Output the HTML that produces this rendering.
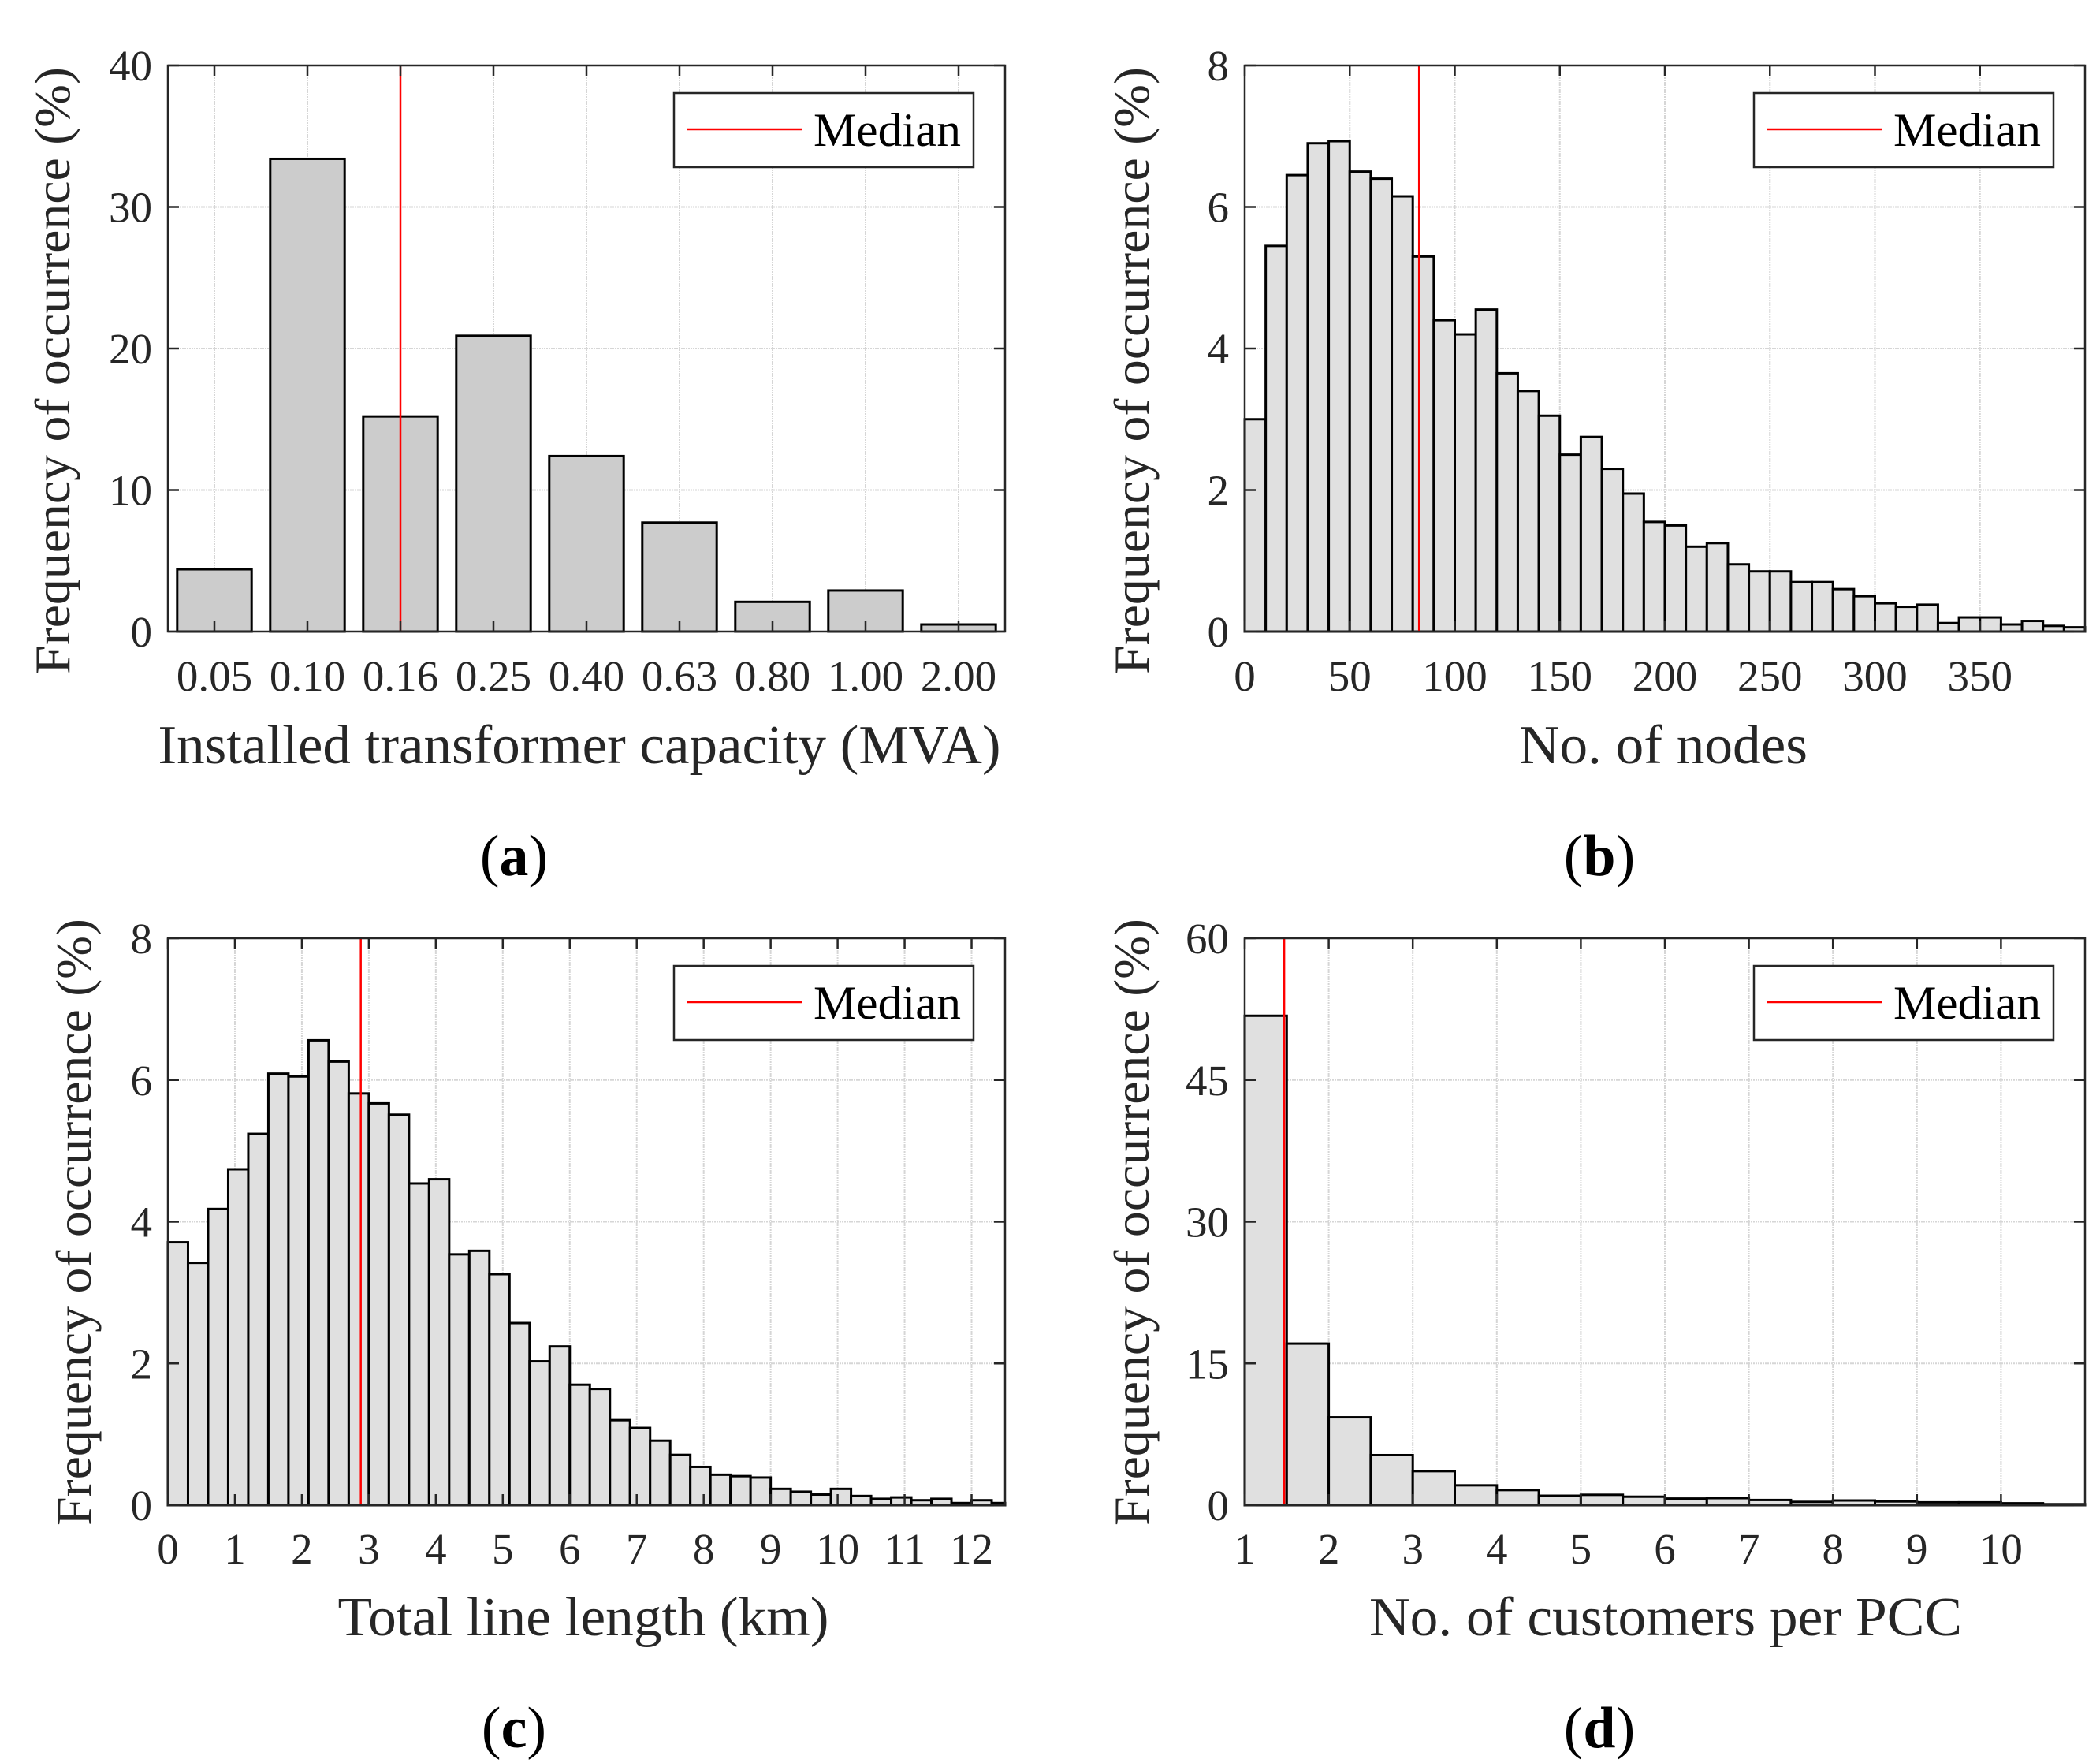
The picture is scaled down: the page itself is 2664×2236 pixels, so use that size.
<!DOCTYPE html>
<html><head><meta charset="utf-8"><style>
html,body{margin:0;padding:0;background:#fff;}
svg{display:block;font-family:"Liberation Serif",serif;}
</style></head>
<body>
<svg id="fig" width="2664" height="2236" viewBox="0 0 2664 2236" xmlns="http://www.w3.org/2000/svg"></svg>
<script>
// Panel (a) data
const aCategories = ["0.05","0.10","0.16","0.25","0.40","0.63","0.80","1.00","2.00"];
const aValues = [4.4,33.4,15.2,20.9,12.4,7.7,2.1,2.9,0.5];
const aMedianIndex = 3;
const aYTicks = [0,10,20,30,40];
// Panel (b) data
const bValues = [3.0,5.45,6.45,6.9,6.93,6.5,6.4,6.15,5.3,4.4,4.2,4.55,3.65,3.4,3.05,2.5,2.75,2.3,1.95,1.55,1.5,1.2,1.25,0.95,0.85,0.85,0.7,0.7,0.6,0.5,0.4,0.35,0.38,0.12,0.2,0.2,0.1,0.15,0.08,0.06];
const bBinStart = 0, bBinWidth = 10, bMedian = 83;
const bXTicks = [0,50,100,150,200,250,300,350];
const bYTicks = [0,2,4,6,8];
// Panel (c) data
const cValues = [3.71,3.42,4.18,4.74,5.24,6.09,6.05,6.56,6.26,5.81,5.67,5.51,4.54,4.6,3.54,3.59,3.26,2.57,2.03,2.24,1.70,1.64,1.20,1.09,0.91,0.71,0.54,0.43,0.41,0.39,0.23,0.19,0.15,0.23,0.13,0.09,0.11,0.07,0.09,0.03,0.07,0.03];
const cBinStart = 0, cBinWidth = 0.3, cMedian = 2.88;
const cXTicks = [0,1,2,3,4,5,6,7,8,9,10,11,12];
const cYTicks = [0,2,4,6,8];
// Panel (d) data
const dValues = [51.8,17.1,9.3,5.3,3.6,2.1,1.6,1.0,1.1,0.9,0.7,0.75,0.55,0.35,0.5,0.4,0.3,0.3,0.2,0.1];
const dBinStart = 1, dBinWidth = 0.5, dMedian = 1.47;
const dXTicks = [1,2,3,4,5,6,7,8,9,10];
const dYTicks = [0,15,30,45,60];

const NS = "http://www.w3.org/2000/svg";
const svg = document.getElementById('fig');
function mk(tag, attrs, parent, text){
  const e = document.createElementNS(NS, tag);
  for (const k in attrs) e.setAttribute(k, attrs[k]);
  if (text !== undefined) e.textContent = text;
  (parent||svg).appendChild(e);
  return e;
}

function panel(cfg){
  const g = mk('g', {});
  
  
  const L=cfg.x0, R=cfg.x1, T=cfg.y0, B=cfg.y1;
  const sx = v => L + (v - cfg.xmin) / (cfg.xmax - cfg.xmin) * (R - L);
  const sy = v => B - (v - cfg.ymin) / (cfg.ymax - cfg.ymin) * (B - T);
  const grid = mk('g', {}, g);
  
  
  cfg.xTicks.forEach(t => { const x=sx(t); if (x>L+1 && x<R-1) mk('line',{x1:x,x2:x,y1:T,y2:B,stroke:'#d6d6d6','stroke-width':2,'stroke-dasharray':'2,1'},grid); });
  cfg.yTicks.forEach(t => { const y=sy(t); if (y>T+1 && y<B-1) mk('line',{x1:L,x2:R,y1:y,y2:y,stroke:'#d6d6d6','stroke-width':2,'stroke-dasharray':'2,1'},grid); });
  const bars = mk('g', {}, g);
  
  
  cfg.bars.forEach((b, i) => {
    let x0 = sx(b.x0), x1 = Math.min(sx(b.x1), R);
    const r = mk('rect', {x:x0, y:sy(b.v), width:Math.max(0,x1-x0), height:sy(0)-sy(b.v), fill:cfg.fill, stroke:'#000','stroke-width':3}, bars);
    
    
  });
  const m = mk('line', {x1:sx(cfg.median), x2:sx(cfg.median), y1:T, y2:B, stroke:'#ff0000','stroke-width':2.5}, g);
  
  
  const box = mk('rect', {x:L, y:T, width:R-L, height:B-T, fill:'none', stroke:'#262626','stroke-width':2.5}, g);
  
  
  cfg.xTicks.forEach((t, i) => {
    const x = sx(t);
    mk('line',{x1:x,x2:x,y1:B,y2:B-14,stroke:'#262626','stroke-width':2.5},g);
    mk('line',{x1:x,x2:x,y1:T,y2:T+14,stroke:'#262626','stroke-width':2.5},g);
    const lab = mk('text',{x:x, y:cfg.xLabY, 'font-size':55, 'text-anchor':'middle', fill:'#262626'}, g, cfg.xTickLabels ? cfg.xTickLabels[i] : String(t));
    
    
  });
  cfg.yTicks.forEach(t => {
    const y = sy(t);
    mk('line',{x1:L,x2:L+14,y1:y,y2:y,stroke:'#262626','stroke-width':2.5},g);
    mk('line',{x1:R,x2:R-14,y1:y,y2:y,stroke:'#262626','stroke-width':2.5},g);
    const lab = mk('text',{x:L-20, y:y+19, 'font-size':55, 'text-anchor':'end', fill:'#262626'}, g, String(t));
    
    
  });
  const xt = mk('text',{x:(L+R)/2 + cfg.xTitleDx, y:cfg.xTitleY, 'font-size':70, 'text-anchor':'middle', fill:'#262626', textLength:cfg.xTitleLen, lengthAdjust:'spacingAndGlyphs'}, g, cfg.xTitle);
  
  
  const yx = cfg.yTitleX, yy = cfg.yTitleY;
  const yt = mk('text',{x:yx, y:yy, 'font-size':64, 'text-anchor':'middle', fill:'#262626', transform:`rotate(-90 ${yx} ${yy})`, textLength:770, lengthAdjust:'spacingAndGlyphs'}, g, 'Frequency of occurrence (%)');
  
  
  const lg = mk('g', {}, g);
  
  
  const lx = R - 420, ly = T + 35;
  mk('rect',{x:lx, y:ly, width:380, height:94, fill:'#fff', stroke:'#262626','stroke-width':2.5}, lg);
  mk('line',{x1:lx+17, x2:lx+163, y1:ly+46, y2:ly+46, stroke:'#ff0000','stroke-width':2.5}, lg);
  const lt = mk('text',{x:lx+177, y:ly+67, 'font-size':60, fill:'#000', textLength:187, lengthAdjust:'spacingAndGlyphs'}, lg, 'Median');
  
  
  const cap = mk('text',{x:cfg.capX, y:cfg.capY, 'font-size':74, 'text-anchor':'middle', fill:'#000'}, g);
  
  
  mk('tspan',{},cap,'(');
  mk('tspan',{'font-weight':'bold'},cap,cfg.letter);
  mk('tspan',{},cap,')');
}

function histBars(values, start, w){
  return values.map((v,i)=>({x0:start+i*w, x1:start+(i+1)*w, v:v}));
}

const topY0 = 83, topY1 = 801, botY0 = 1190, botY1 = 1909;
const leftX0 = 213, leftX1 = 1275, rightX0 = 1579, rightX1 = 2645;

panel({name:'panel-a-transformer-capacity', letter:'a', x0:leftX0, x1:leftX1, y0:topY0, y1:topY1,
  xmin:0.5, xmax:aCategories.length+0.5, ymin:0, ymax:40,
  xTicks:aCategories.map((c,i)=>i+1), xTickLabels:aCategories, yTicks:aYTicks,
  bars:aValues.map((v,i)=>({x0:i+1-0.4, x1:i+1+0.4, v:v})), fill:'#cccccc',
  median:aMedianIndex, xLabY:876, xTitle:'Installed transformer capacity (MVA)', xTitleY:968, xTitleDx:-9, xTitleLen:1069,
  yTitleX:88, yTitleY:470, capX:652, capY:1110});

panel({name:'panel-b-nodes', letter:'b', x0:rightX0, x1:rightX1, y0:topY0, y1:topY1,
  xmin:0, xmax:400, ymin:0, ymax:8, xTicks:bXTicks, yTicks:bYTicks,
  bars:histBars(bValues,bBinStart,bBinWidth), fill:'#e0e0e0',
  median:bMedian, xLabY:876, xTitle:'No. of nodes', xTitleY:968, xTitleDx:-2, xTitleLen:366,
  yTitleX:1457, yTitleY:470, capX:2029, capY:1110});

panel({name:'panel-c-line-length', letter:'c', x0:leftX0, x1:leftX1, y0:botY0, y1:botY1,
  xmin:0, xmax:12.5, ymin:0, ymax:8, xTicks:cXTicks, yTicks:cYTicks,
  bars:histBars(cValues,cBinStart,cBinWidth), fill:'#e0e0e0',
  median:cMedian, xLabY:1983, xTitle:'Total line length (km)', xTitleY:2074, xTitleDx:-4, xTitleLen:623,
  yTitleX:115, yTitleY:1550, capX:652, capY:2216});

panel({name:'panel-d-customers-per-pcc', letter:'d', x0:rightX0, x1:rightX1, y0:botY0, y1:botY1,
  xmin:1, xmax:11, ymin:0, ymax:60, xTicks:dXTicks, yTicks:dYTicks,
  bars:histBars(dValues,dBinStart,dBinWidth), fill:'#e0e0e0',
  median:dMedian, xLabY:1983, xTitle:'No. of customers per PCC', xTitleY:2074, xTitleDx:1, xTitleLen:752,
  yTitleX:1457, yTitleY:1550, capX:2029, capY:2216});
</script>
</body></html>
